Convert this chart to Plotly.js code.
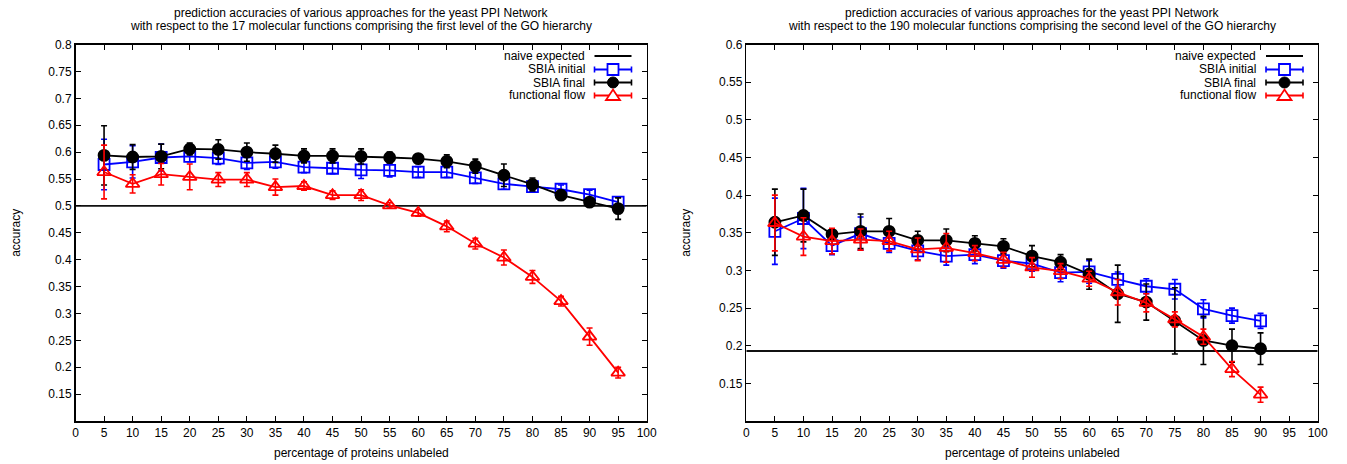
<!DOCTYPE html>
<html>
<head>
<meta charset="utf-8">
<script src="https://cdn.plot.ly/plotly-3.0.1.min.js"></script>
<style>html,body{margin:0;padding:0;background:#fff;}#chart{width:1347px;height:464px;}</style>
</head>
<body>
<div id="chart"></div>
<script>
// ---------- data ----------
var xLeft = [5,10,15,20,25,30,35,40,45,50,55,60,65,70,75,80,85,90,95];
var xRight = [5,10,15,20,25,30,35,40,45,50,55,60,65,70,75,80,85,90];
var naiveRange = [0, 100];
var naiveLeft = 0.5;
var naiveRight = 0.193;

var sbiaInitialLeft = [0.577,0.582,0.590,0.592,0.589,0.580,0.582,0.572,0.570,0.567,0.566,0.563,0.563,0.552,0.541,0.536,0.531,0.521,0.507];
var sbiaInitialLeftErr = [0.047,0.030,0.025,0.010,0.012,0.012,0.012,0.010,0.010,0.016,0.012,0.010,0.010,0.010,0.010,0.010,0.008,0.008,0.010];
var sbiaFinalLeft = [0.594,0.591,0.592,0.606,0.605,0.600,0.597,0.593,0.593,0.592,0.590,0.588,0.583,0.574,0.557,0.540,0.520,0.507,0.495];
var sbiaFinalLeftErr = [0.055,0.023,0.023,0.011,0.018,0.017,0.016,0.013,0.013,0.014,0.010,0.008,0.012,0.013,0.021,0.012,0.008,0.006,0.020];
var flowLeft = [0.563,0.541,0.559,0.554,0.549,0.549,0.535,0.537,0.520,0.520,0.501,0.487,0.462,0.430,0.404,0.368,0.323,0.257,0.190];
var flowLeftErr = [0.050,0.017,0.020,0.024,0.013,0.013,0.015,0.008,0.008,0.010,0.005,0.006,0.010,0.010,0.014,0.012,0.009,0.016,0.010];

var sbiaInitialRight = [0.352,0.369,0.333,0.349,0.336,0.326,0.319,0.321,0.313,0.309,0.297,0.298,0.288,0.279,0.275,0.249,0.240,0.233];
var sbiaInitialRightErr = [0.044,0.040,0.012,0.022,0.012,0.012,0.012,0.012,0.010,0.010,0.012,0.015,0.010,0.010,0.013,0.012,0.010,0.010];
var sbiaFinalRight = [0.364,0.373,0.348,0.352,0.352,0.340,0.340,0.336,0.332,0.319,0.311,0.295,0.269,0.258,0.233,0.207,0.200,0.196];
var sbiaFinalRightErr = [0.044,0.035,0.007,0.023,0.017,0.012,0.015,0.010,0.010,0.014,0.010,0.020,0.038,0.024,0.044,0.032,0.022,0.021];
var flowRight = [0.363,0.345,0.339,0.341,0.339,0.328,0.330,0.323,0.314,0.304,0.299,0.289,0.271,0.257,0.235,0.212,0.169,0.135];
var flowRightErr = [0.037,0.025,0.017,0.014,0.013,0.015,0.019,0.010,0.010,0.013,0.010,0.010,0.017,0.012,0.010,0.010,0.010,0.010];

var xTicks = [0,5,10,15,20,25,30,35,40,45,50,55,60,65,70,75,80,85,90,95,100];
var yTicksLeft = [0.15,0.2,0.25,0.3,0.35,0.4,0.45,0.5,0.55,0.6,0.65,0.7,0.75,0.8];
var yTickTextLeft = ['0.15','0.2','0.25','0.3','0.35','0.4','0.45','0.5','0.55','0.6','0.65','0.7','0.75','0.8'];
var yTicksRight = [0.15,0.2,0.25,0.3,0.35,0.4,0.45,0.5,0.55,0.6];
var yTickTextRight = ['0.15','0.2','0.25','0.3','0.35','0.4','0.45','0.5','0.55','0.6'];

var seriesNames = ['naive expected','SBIA initial','SBIA final','functional flow'];
var titleLeft = ['prediction accuracies of various approaches for the yeast PPI Network',
                 'with respect to the 17 molecular functions comprising the first level of the GO hierarchy'];
var titleRight = ['prediction accuracies of various approaches for the yeast PPI Network',
                  'with respect to the 190 molecular functions comprising the second level of the GO hierarchy'];
var xTitle = 'percentage of proteins unlabeled';
var yTitle = 'accuracy';

// ---------- style ----------
var W = 1347, H = 464;
var FONT = '"Liberation Sans", Arial, Helvetica, sans-serif';
var BLUE = '#0000ff', BLACK = '#000000', RED = '#ff0000';
function px(x){ return x / W; }
function py(y){ return 1 - y / H; }

function errTrace(x, y, e, color, symbol, size, xa, ya){
  return {
    type:'scatter', mode:'lines+markers', x:x, y:y, xaxis:xa, yaxis:ya,
    line:{color:color, width:1.8},
    marker:{symbol:symbol, size:size, color:color, line:{color:color, width:1.8}},
    error_y:{type:'data', array:e, visible:true, color:color, thickness:1.6, width:3},
    hoverinfo:'skip', showlegend:false
  };
}
function naiveTrace(v, xa, ya){
  return {type:'scatter', mode:'lines', x:naiveRange, y:[v, v], xaxis:xa, yaxis:ya,
          line:{color:'#111', width:1.8}, hoverinfo:'skip', showlegend:false};
}

var data = [
  naiveTrace(naiveLeft, 'x', 'y'),
  errTrace(xLeft, sbiaInitialLeft, sbiaInitialLeftErr, BLUE, 'square-open', 11, 'x', 'y'),
  errTrace(xLeft, sbiaFinalLeft, sbiaFinalLeftErr, BLACK, 'circle', 11, 'x', 'y'),
  errTrace(xLeft, flowLeft, flowLeftErr, RED, 'triangle-up-open', 12, 'x', 'y'),
  naiveTrace(naiveRight, 'x2', 'y2'),
  errTrace(xRight, sbiaInitialRight, sbiaInitialRightErr, BLUE, 'square-open', 11, 'x2', 'y2'),
  errTrace(xRight, sbiaFinalRight, sbiaFinalRightErr, BLACK, 'circle', 11, 'x2', 'y2'),
  errTrace(xRight, flowRight, flowRightErr, RED, 'triangle-up-open', 12, 'x2', 'y2')
];

var plotTop = 44.6, plotBottom = 421;
var leftL = 75.5, leftR = 646.7, rightL = 746.3, rightR = 1317.7;

function xAxis(domain, anchor){
  return {domain:domain, range:[0,100], anchor:anchor, tickvals:xTicks, ticks:'inside', ticklen:5,
          tickwidth:1, tickcolor:'#000', showline:true, linecolor:'#000', linewidth:1.5,
          mirror:'ticks', showgrid:false, zeroline:false, automargin:false, fixedrange:true,
          tickfont:{family:FONT, size:12, color:'#000'}};
}
function yAxis(domain, anchor, vals, txt, rng){
  return {domain:domain, range:rng, anchor:anchor, tickvals:vals, ticktext:txt, ticks:'inside', ticklen:5,
          tickwidth:1, tickcolor:'#000', showline:true, linecolor:'#000', linewidth:1.5,
          mirror:'ticks', showgrid:false, zeroline:false, automargin:false, fixedrange:true,
          tickfont:{family:FONT, size:12, color:'#000'}};
}
var yDom = [py(plotBottom), py(plotTop)];

var annotations = [];
function ann(x, y, text, opts){
  var a = {xref:'paper', yref:'paper', x:px(x), y:py(y), text:text, showarrow:false,
           font:{family:FONT, size:12, color:'#000'}, xanchor:'center', yanchor:'middle'};
  for (var k in (opts||{})) a[k] = opts[k];
  annotations.push(a);
}
var cL = (leftL+leftR)/2, cR = (rightL+rightR)/2;
ann(cL, 13, titleLeft[0]); ann(cL, 26, titleLeft[1]);
ann(cR, 13, titleRight[0]); ann(cR, 26, titleRight[1]);
ann(cL, 453, xTitle); ann(cR, 453, xTitle);
ann(16, (plotTop+plotBottom)/2, yTitle, {textangle:-90});
ann(686, (plotTop+plotBottom)/2, yTitle, {textangle:-90});

// ---------- manual gnuplot-style keys ----------
var shapes = [];
var rows = [56, 69.5, 82.5, 95.5];
var colors = [BLACK, BLUE, BLACK, RED];
function key(textRight, s0, s1){
  var c = (s0+s1)/2;
  for (var i=0;i<4;i++){
    var y = rows[i];
    ann(textRight, y, seriesNames[i], {xanchor:'right'});
    shapes.push({type:'line', xref:'paper', yref:'paper', x0:px(s0), x1:px(s1), y0:py(y), y1:py(y),
                 line:{color:colors[i], width:1.8}});
    if (i===0) continue;
    shapes.push({type:'line', xref:'paper', yref:'paper', x0:px(s0), x1:px(s0), y0:py(y-3), y1:py(y+3), line:{color:colors[i], width:1.6}});
    shapes.push({type:'line', xref:'paper', yref:'paper', x0:px(s1), x1:px(s1), y0:py(y-3), y1:py(y+3), line:{color:colors[i], width:1.6}});
    if (i===1){
      shapes.push({type:'rect', xref:'paper', yref:'paper', x0:px(c-5.5), x1:px(c+5.5), y0:py(y-5.5), y1:py(y+5.5),
                   line:{color:BLUE, width:1.8}, fillcolor:'#fff'});
    } else if (i===2){
      shapes.push({type:'circle', xref:'paper', yref:'paper', x0:px(c-5.5), x1:px(c+5.5), y0:py(y-5.5), y1:py(y+5.5),
                   line:{color:BLACK, width:1}, fillcolor:BLACK});
    } else {
      var p = 'M'+px(c-7)+','+py(y+4.5)+' L'+px(c+7)+','+py(y+4.5)+' L'+px(c)+','+py(y-6)+' Z';
      shapes.push({type:'path', xref:'paper', yref:'paper', path:p, line:{color:RED, width:1.8}, fillcolor:'#fff'});
    }
  }
}
key(587, 594.5, 631.5);
key(1257.5, 1266, 1303);

var layout = {
  width:W, height:H, margin:{l:0, r:0, t:0, b:0}, paper_bgcolor:'#fff', plot_bgcolor:'#fff',
  showlegend:false, font:{family:FONT, size:12, color:'#000'},
  xaxis: xAxis([px(leftL), px(leftR)], 'y'),
  yaxis: yAxis(yDom, 'x', yTicksLeft, yTickTextLeft, [0.1, 0.8]),
  xaxis2: xAxis([px(rightL), px(rightR)], 'y2'),
  yaxis2: yAxis(yDom, 'x2', yTicksRight, yTickTextRight, [0.1, 0.6]),
  annotations: annotations, shapes: shapes
};
Plotly.newPlot('chart', data, layout, {staticPlot:true, displayModeBar:false});
</script>
</body>
</html>
